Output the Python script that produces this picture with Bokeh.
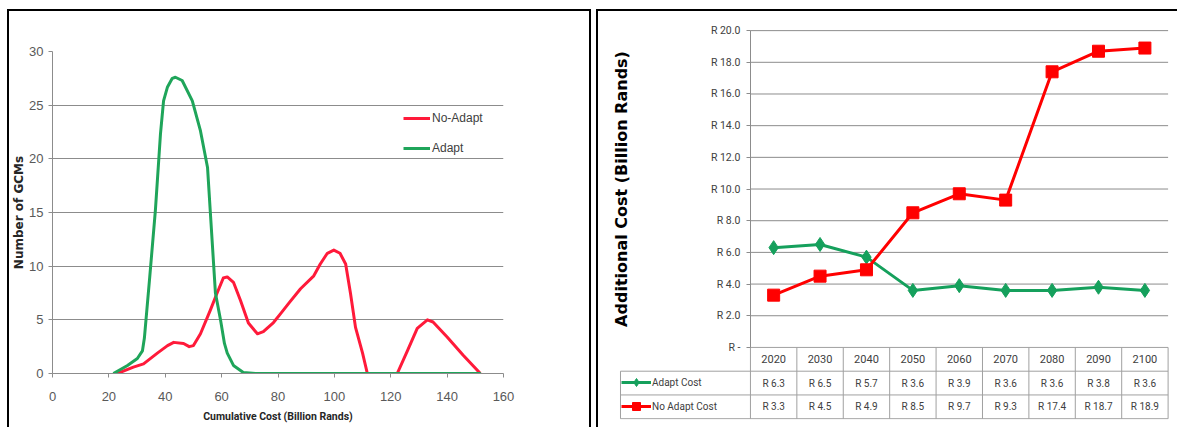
import numpy as np
from bokeh.plotting import figure
from bokeh.models import Range1d, FixedTicker, Legend, LegendItem
from bokeh.layouts import row, column
from bokeh.embed import file_html
from bokeh.resources import INLINE
from bokeh.core.properties import value

# ---------------- left chart data ----------------
no_adapt_cost = [23, 28.7, 32.3, 37.2, 40.8, 43, 46.5, 48.5, 50, 52.5, 56, 58.4, 60.6, 62,
                 64.2, 66.7, 69.5, 72.7, 74.8, 78.4, 81, 84, 88, 92.7, 95, 97.5, 99.8, 102,
                 104, 105.7, 107.5, 110, 111.7, 122.3, 125.9, 129.4, 133, 135, 140, 145.7, 151.8]
no_adapt_gcms = [0, 0.6, 0.9, 1.9, 2.6, 2.9, 2.8, 2.5, 2.6, 3.7, 5.9, 7.5, 8.9, 9.0,
                 8.5, 6.8, 4.7, 3.7, 3.9, 4.75, 5.6, 6.6, 7.9, 9.1, 10.2, 11.2, 11.5, 11.2,
                 10.2, 7.5, 4.3, 1.9, 0, 0, 2.1, 4.2, 5.0, 4.8, 3.4, 1.7, 0]

adapt_cost = [21.6, 26.6, 30.1, 31.9, 32.6, 34.5, 36.5, 38.3, 39.4, 40.8, 42.5, 43.6, 46,
              49.6, 52.5, 55, 56, 57.8, 59.6, 61, 62, 64.2, 67.7, 72, 80, 100, 120, 140, 152]
adapt_gcms = [0, 0.75, 1.4, 2.1, 3.3, 9, 15.2, 22.3, 25.4, 26.7, 27.5, 27.6, 27.3,
              25.4, 22.6, 19.2, 15, 7.5, 5, 2.8, 1.9, 0.75, 0.1, 0, 0, 0, 0, 0, 0]

left_x_ticks = [0, 20, 40, 60, 80, 100, 120, 140, 160]
left_y_ticks = [0, 5, 10, 15, 20, 25, 30]

# ---------------- right chart data ----------------
years = ["2020", "2030", "2040", "2050", "2060", "2070", "2080", "2090", "2100"]
adapt_cost_by_year = [6.3, 6.5, 5.7, 3.6, 3.9, 3.6, 3.6, 3.8, 3.6]
no_adapt_cost_by_year = [3.3, 4.5, 4.9, 8.5, 9.7, 9.3, 17.4, 18.7, 18.9]
right_y_ticks = [0, 2, 4, 6, 8, 10, 12, 14, 16, 18, 20]
right_y_tick_labels = ["R -", "R 2.0", "R 4.0", "R 6.0", "R 8.0", "R 10.0",
                       "R 12.0", "R 14.0", "R 16.0", "R 18.0", "R 20.0"]
series_names = ["Adapt Cost", "No Adapt Cost"]

# ---------------- styles ----------------
RED_L = "#FF1A3A"
GREEN_L = "#1FA55A"
RED_R = "#FF0000"
GREEN_R = "#15A05C"
GRID = "#8c8c8c"
TBL = "#a0a0a0"
TXT = "#404040"
SANS = "Liberation Sans"
COND = "Roboto"

# ================= LEFT PANEL =================
p1 = figure(frame_width=451, frame_height=322,
            x_range=Range1d(0, 160), y_range=Range1d(0, 30),
            min_border_left=45, min_border_right=88, min_border_top=42, min_border_bottom=54,
            output_backend="svg", toolbar_location=None,
            border_fill_color=None, outline_line_color=None)
p1.styles = {"box-shadow": "inset 2px 2px 0 0 #000, inset -2px 0 0 0 #000"}

r_red = p1.line(no_adapt_cost, no_adapt_gcms, line_color=RED_L, line_width=3, line_join="round")
r_green = p1.line(adapt_cost, adapt_gcms, line_color=GREEN_L, line_width=3, line_join="round")

p1.xaxis.ticker = FixedTicker(ticks=left_x_ticks)
p1.yaxis.ticker = FixedTicker(ticks=left_y_ticks)
p1.xgrid.visible = False
p1.ygrid.ticker = FixedTicker(ticks=left_y_ticks)
p1.ygrid.grid_line_color = GRID
for ax in (p1.xaxis[0], p1.yaxis[0]):
    ax.axis_line_color = GRID
    ax.major_tick_line_color = GRID
    ax.major_tick_in = 0
    ax.major_tick_out = 4
    ax.minor_tick_line_color = None
    ax.major_label_text_font = SANS
    ax.major_label_text_font_size = "13px"
    ax.major_label_text_color = "#595959"
    ax.axis_label_text_font_style = "bold"
    ax.axis_label_text_color = "#262626"
p1.xaxis.major_label_standoff = 14
p1.xaxis.axis_label = "Cumulative Cost (Billion Rands)"
p1.xaxis.axis_label_text_font = COND
p1.xaxis.axis_label_text_font_size = "10.5px"
p1.xaxis.axis_label_standoff = 6
p1.yaxis.major_label_standoff = 5
p1.yaxis.axis_label = "Number of GCMs"
p1.yaxis.axis_label_text_font = "DejaVu Sans"
p1.yaxis.axis_label_text_font_size = "12px"
p1.yaxis.axis_label_standoff = 0

leg1 = Legend(items=[LegendItem(label="No-Adapt", renderers=[r_red]),
                     LegendItem(label="Adapt", renderers=[r_green])],
              location=(351, 217), padding=0, margin=0, spacing=14,
              glyph_height=16, glyph_width=27, label_height=16, label_standoff=2,
              border_line_color=None, background_fill_alpha=0,
              label_text_font=SANS, label_text_font_size="12px",
              label_text_color=TXT)
p1.add_layout(leg1)

# ================= RIGHT PANEL (chart + data table) =================
n = len(years)
ROW = 1.5                 # table row height, value units
LEG = 2.8                 # width of the table's legend column, category units
X_PX = 46.41              # pixels per category
Y_PX = 15.84              # pixels per value unit
X_START = -LEG - 14 / X_PX
X_END = n + 0.03
FW = int(round((X_END - X_START) * X_PX))
FH = 397
Y_START = -3 * ROW - 0.05
Y_END = Y_START + FH / Y_PX
xpos = np.arange(n) + 0.5

pR = figure(frame_width=FW, frame_height=FH,
            x_range=Range1d(X_START, X_END), y_range=Range1d(Y_START, Y_END),
            x_axis_type=None,
            min_border_left=10, min_border_right=8, min_border_top=13, min_border_bottom=8,
            output_backend="svg", toolbar_location=None,
            border_fill_color=None, outline_line_color=None)
pR.styles = {"box-shadow": "inset 2px 2px 0 0 #000"}
pR.xgrid.visible = False
pR.ygrid.visible = False

# horizontal value grid (only over the plotting columns)
gy = right_y_ticks[1:]
pR.segment(x0=[0] * len(gy), y0=gy, x1=[n] * len(gy), y1=gy, line_color=GRID, line_width=1)

# table rules (data table under the chart)
row_edges = [0, -ROW, -2 * ROW, -3 * ROW]
pR.segment(x0=[0, -LEG, -LEG, -LEG], y0=row_edges, x1=[n] * 4, y1=row_edges,
           line_color=TBL, line_width=1)
vx = list(range(n + 1))
pR.segment(x0=vx + [-LEG], y0=[0] * (n + 1) + [-ROW], x1=vx + [-LEG],
           y1=[-3 * ROW] * (n + 2), line_color=TBL, line_width=1)

ra_l = pR.line(xpos, adapt_cost_by_year, line_color=GREEN_R, line_width=3)
ra_m = pR.scatter(xpos, adapt_cost_by_year, marker="diamond", size=14, color=GREEN_R)
rn_l = pR.line(xpos, no_adapt_cost_by_year, line_color=RED_R, line_width=3)
rn_m = pR.scatter(xpos, no_adapt_cost_by_year, marker="square", size=12, color=RED_R)

ya = pR.yaxis[0]
ya.fixed_location = 0
ya.bounds = (right_y_ticks[0], right_y_ticks[-1])
ya.ticker = FixedTicker(ticks=right_y_ticks)
ya.major_label_overrides = {t: l for t, l in zip(right_y_ticks, right_y_tick_labels)}
ya.axis_line_color = GRID
ya.major_tick_line_color = GRID
ya.major_tick_in = 0
ya.major_tick_out = 4
ya.minor_tick_line_color = None
ya.major_label_text_font = COND
ya.major_label_text_font_size = "10.5px"
ya.major_label_text_color = TXT
ya.major_label_standoff = 6
ya.axis_label = "Additional Cost (Billion Rands)"
ya.axis_label_text_font = "DejaVu Sans"
ya.axis_label_text_font_style = "bold"
ya.axis_label_text_font_size = "16px"
ya.axis_label_text_color = "#000000"
ya.axis_label_standoff = 77

pR.text(xpos, [-0.5 * ROW] * n, text=years, text_align="center", text_baseline="middle",
        text_font=value(COND), text_font_size="11px", text_color=TXT)
pR.text(xpos, [-1.5 * ROW] * n, text=[f"R {v:.1f}" for v in adapt_cost_by_year],
        text_align="center", text_baseline="middle",
        text_font=value(COND), text_font_size="10px", text_color=TXT)
pR.text(xpos, [-2.5 * ROW] * n, text=[f"R {v:.1f}" for v in no_adapt_cost_by_year],
        text_align="center", text_baseline="middle",
        text_font=value(COND), text_font_size="10px", text_color=TXT)

leg2 = Legend(items=[LegendItem(label=series_names[0], renderers=[ra_l, ra_m]),
                     LegendItem(label=series_names[1], renderers=[rn_l, rn_m])],
              location=(15, 3), padding=0, margin=0, spacing=4,
              glyph_height=20, glyph_width=30, label_height=20, label_standoff=1,
              border_line_color=None, background_fill_alpha=0,
              label_text_font=COND, label_text_font_size="10px", label_text_color=TXT)
pR.add_layout(leg2)

layout = row(p1, column(pR), spacing=5, margin=(9, 0, 0, 7))

open("out.html", "w").write(file_html(layout, INLINE, title="chart"))
